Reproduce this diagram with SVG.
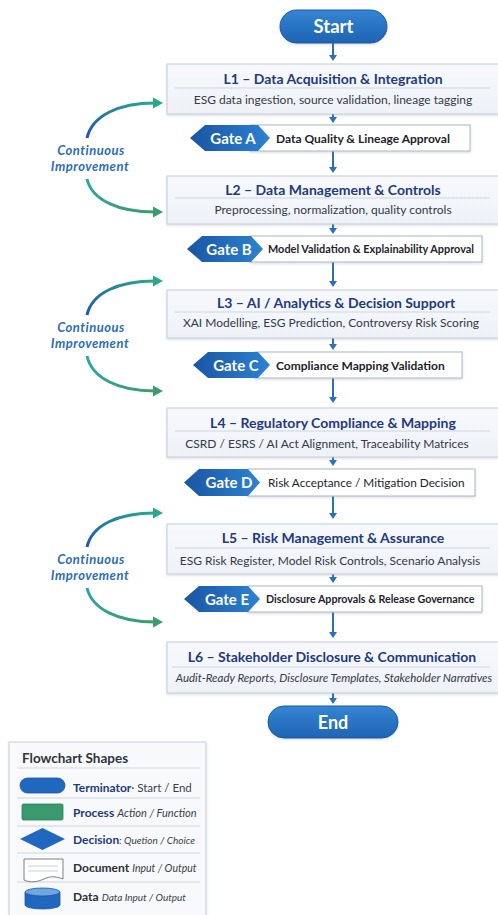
<svg xmlns="http://www.w3.org/2000/svg" width="498" height="915" viewBox="0 0 498 915">
  <defs>
    <style>
      .ttl { font-family: "Lato", "Liberation Sans", sans-serif; font-weight: 700; font-size: 14px; fill: #1f3a7e; text-anchor: middle; }
      .sub { font-family: "Lato", "Liberation Sans", sans-serif; font-size: 12px; fill: #333a44; text-anchor: middle; }
      .gk { font-family: "Lato", "Liberation Sans", sans-serif; font-weight: 700; font-size: 15px; fill: #ffffff; text-anchor: middle; }
      .gl { font-family: "Lato", "Liberation Sans", sans-serif; font-weight: 700; font-size: 12px; fill: #1e232b; }
      .term { font-family: "Lato", "Liberation Sans", sans-serif; font-weight: 700; font-size: 18.5px; fill: #ffffff; text-anchor: middle; }
      .ci { font-family: "Lato", "Liberation Sans", sans-serif; font-weight: 700; font-style: italic; font-size: 13px; letter-spacing: 0.5px; fill: #2d6cb8; text-anchor: middle; }
      .box { fill: url(#boxFill); stroke: #c6ced8; stroke-width: 1; }
      .sep { stroke: #cfd6de; stroke-width: 1; }
      .gbox { fill: #ffffff; stroke: #b9c1cc; stroke-width: 1.2; }
      .hex { fill: url(#hexFill); }
      .pill { fill: url(#pillFill); stroke: #1c5aa6; stroke-width: 1; }
      .flow { stroke: #2b6fbe; stroke-width: 2; fill: none; }
      .head { fill: #2b6fbe; }
      .lg { font-family: "Lato", "Liberation Sans", sans-serif; font-size: 12px; fill: #3a3f47; }
      .lgb { font-weight: 700; fill: #1f3a7e; }
      .lgd { font-weight: 700; fill: #2a2e35; }
      .lgi { font-style: italic; font-size: 11px; }
    </style>
    <linearGradient id="boxFill" x1="0" y1="0" x2="0" y2="1">
      <stop offset="0" stop-color="#f7f9fc"/>
      <stop offset="1" stop-color="#eef2f7"/>
    </linearGradient>
    <linearGradient id="hexFill" x1="0" y1="0" x2="1" y2="0">
      <stop offset="0" stop-color="#1a55a3"/>
      <stop offset="1" stop-color="#2c82d2"/>
    </linearGradient>
    <linearGradient id="pillFill" x1="0" y1="0" x2="0" y2="1">
      <stop offset="0" stop-color="#3485d3"/>
      <stop offset="1" stop-color="#1e63b3"/>
    </linearGradient>
    <linearGradient id="upArc" x1="0" y1="1" x2="1" y2="0">
      <stop offset="0" stop-color="#1d55b5"/>
      <stop offset="1" stop-color="#2aa88e"/>
    </linearGradient>
    <linearGradient id="downArc" x1="0" y1="0" x2="1" y2="1">
      <stop offset="0" stop-color="#2ba6b0"/>
      <stop offset="1" stop-color="#3a9c6c"/>
    </linearGradient>
    <filter id="shadow" x="-5%" y="-10%" width="110%" height="130%">
      <feDropShadow dx="0" dy="1.2" stdDeviation="1.2" flood-color="#6b7a90" flood-opacity="0.25"/>
    </filter>
    <path id="ah" d="M-4,-3 L4,-3 L0,3 Z"/>
  </defs>

  <rect width="498" height="915" fill="#ffffff"/>

  <!-- vertical flow connectors -->
  <g id="connectors">
    <path class="flow" d="M333,43 V56"/><use href="#ah" class="head" x="333" y="58"/>
    <path class="flow" d="M333,114 V118"/><use href="#ah" class="head" x="333" y="120"/>
    <path class="flow" d="M333,151 V168"/><use href="#ah" class="head" x="333" y="170"/>
    <path class="flow" d="M333,224 V229"/><use href="#ah" class="head" x="333" y="231"/>
    <path class="flow" d="M333,262 V281"/><use href="#ah" class="head" x="333" y="284"/>
    <path class="flow" d="M333,338 V344"/><use href="#ah" class="head" x="333" y="347"/>
    <path class="flow" d="M333,378 V397"/><use href="#ah" class="head" x="333" y="400"/>
    <path class="flow" d="M333,457 V461"/><use href="#ah" class="head" x="333" y="463"/>
    <path class="flow" d="M333,496 V513"/><use href="#ah" class="head" x="333" y="516"/>
    <path class="flow" d="M333,574 V578"/><use href="#ah" class="head" x="333" y="580"/>
    <path class="flow" d="M333,612 V632"/><use href="#ah" class="head" x="333" y="635"/>
    <path class="flow" d="M333,693 V699"/><use href="#ah" class="head" x="333" y="701"/>
  </g>

  <!-- continuous improvement loops -->
  <g id="improvement-1">
    <path d="M87,138 C92,116 118,103 155,103" fill="none" stroke="url(#upArc)" stroke-width="3"/>
    <path d="M153,97.5 L163,103 L153,108.5 Z" fill="#2aa88e"/>
    <text class="ci" x="91" y="155">Continuous</text>
    <text class="ci" x="90" y="170.6">Improvement</text>
    <path d="M87,179 C92,200 118,212 155,212" fill="none" stroke="url(#downArc)" stroke-width="3"/>
    <path d="M153,206.5 L163,212 L153,217.5 Z" fill="#3a9c6c"/>
  </g>
  <g id="improvement-2">
    <path d="M87,315 C92,293 118,281 155,281" fill="none" stroke="url(#upArc)" stroke-width="3"/>
    <path d="M153,275.5 L163,281 L153,286.5 Z" fill="#2aa88e"/>
    <text class="ci" x="91" y="332">Continuous</text>
    <text class="ci" x="90" y="347.6">Improvement</text>
    <path d="M87,356 C92,378 118,391 155,391" fill="none" stroke="url(#downArc)" stroke-width="3"/>
    <path d="M153,385.5 L163,391 L153,396.5 Z" fill="#3a9c6c"/>
  </g>
  <g id="improvement-3">
    <path d="M87,547 C92,525 118,513 155,513" fill="none" stroke="url(#upArc)" stroke-width="3"/>
    <path d="M153,507.5 L163,513 L153,518.5 Z" fill="#2aa88e"/>
    <text class="ci" x="91" y="564">Continuous</text>
    <text class="ci" x="90" y="579.6">Improvement</text>
    <path d="M87,588 C92,609 118,622 155,622" fill="none" stroke="url(#downArc)" stroke-width="3"/>
    <path d="M153,616.5 L163,622 L153,627.5 Z" fill="#3a9c6c"/>
  </g>

  <!-- terminators -->
  <g id="start">
    <rect class="pill" x="280" y="10" width="107" height="33" rx="16.5" filter="url(#shadow)"/>
    <text class="term" x="333.5" y="33">Start</text>
  </g>

  <!-- layer boxes -->
  <g id="l1">
    <rect class="box" x="167" y="64" width="340" height="50" filter="url(#shadow)"/>
    <line class="sep" x1="175" y1="88" x2="490" y2="88"/>
    <text class="ttl" x="333" y="84">L1 – Data Acquisition &amp; Integration</text>
    <text class="sub" x="333" y="104">ESG data ingestion, source validation, lineage tagging</text>
  </g>
  <g id="gate-a">
    <rect class="gbox" x="250" y="125" width="220" height="26" filter="url(#shadow)"/>
    <path class="hex" d="M190,138 L205,125 L258,125 L270,138 L258,151 L205,151 Z"/>
    <text class="gk" x="233" y="143.5">Gate A</text>
    <text class="gl" x="276" y="142.5">Data Quality &amp; Lineage Approval</text>
  </g>

  <g id="l2">
    <rect class="box" x="167" y="176" width="340" height="48" filter="url(#shadow)"/>
    <line class="sep" x1="175" y1="198" x2="490" y2="198"/>
    <text class="ttl" x="333" y="195">L2 – Data Management &amp; Controls</text>
    <text class="sub" x="333" y="214">Preprocessing, normalization, quality controls</text>
  </g>
  <g id="gate-b">
    <rect class="gbox" x="250" y="236" width="232" height="26" filter="url(#shadow)"/>
    <path class="hex" d="M187,249 L202,236 L251,236 L263,249 L251,262 L202,262 Z"/>
    <text class="gk" x="229" y="254.5">Gate B</text>
    <text class="gl" x="268" y="253" style="font-size:10.9px">Model Validation &amp; Explainability Approval</text>
  </g>

  <g id="l3">
    <rect class="box" x="167" y="290" width="340" height="48" filter="url(#shadow)"/>
    <line class="sep" x1="175" y1="312" x2="490" y2="312"/>
    <text class="ttl" x="336" y="308">L3 – AI / Analytics &amp;  Decision Support</text>
    <text class="sub" x="331" y="326.5">XAI Modelling, ESG Prediction, Controversy Risk Scoring</text>
  </g>
  <g id="gate-c">
    <rect class="gbox" x="255" y="352" width="207" height="26" filter="url(#shadow)"/>
    <path class="hex" d="M193,365 L208,352 L258,352 L270,365 L258,378 L208,378 Z"/>
    <text class="gk" x="236" y="370.5">Gate C</text>
    <text class="gl" x="276" y="369.5">Compliance Mapping Validation</text>
  </g>

  <g id="l4">
    <rect class="box" x="167" y="408" width="340" height="49" filter="url(#shadow)"/>
    <line class="sep" x1="175" y1="431" x2="490" y2="431"/>
    <text class="ttl" x="333" y="428">L4 – Regulatory Compliance &amp; Mapping</text>
    <text class="sub" x="327" y="447.5">CSRD / ESRS / AI Act Alignment, Traceability Matrices</text>
  </g>
  <g id="gate-d">
    <rect class="gbox" x="248" y="469" width="227" height="27" filter="url(#shadow)"/>
    <path class="hex" d="M184,482.5 L199,469 L248,469 L260,482.5 L248,496 L199,496 Z"/>
    <text class="gk" x="229" y="488">Gate D</text>
    <text class="gl" x="268" y="487" style="font-weight:400;font-size:11.8px">Risk Acceptance / Mitigation Decision</text>
  </g>

  <g id="l5">
    <rect class="box" x="167" y="524" width="340" height="50" filter="url(#shadow)"/>
    <line class="sep" x1="175" y1="548" x2="490" y2="548"/>
    <text class="ttl" x="333" y="543">L5 – Risk Management &amp; Assurance</text>
    <text class="sub" x="330" y="564.5">ESG Risk Register, Model Risk Controls, Scenario Analysis</text>
  </g>
  <g id="gate-e">
    <rect class="gbox" x="248" y="586" width="234" height="26" filter="url(#shadow)"/>
    <path class="hex" d="M184,599 L199,586 L248,586 L260,599 L248,612 L199,612 Z"/>
    <text class="gk" x="227" y="604.5">Gate E</text>
    <text class="gl" x="266" y="603" style="font-size:10.7px">Disclosure Approvals &amp; Release Governance</text>
  </g>

  <g id="l6">
    <rect class="box" x="167" y="642" width="340" height="51" filter="url(#shadow)"/>
    <line class="sep" x1="172" y1="667" x2="490" y2="667"/>
    <text class="ttl" x="332" y="662">L6 – Stakeholder Disclosure &amp; Communication</text>
    <text class="sub" x="334" y="682" style="font-style:italic;font-size:11.5px">Audit-Ready Reports, Disclosure Templates, Stakeholder Narratives</text>
  </g>

  <g id="end">
    <rect class="pill" x="268" y="706" width="130" height="32" rx="16" filter="url(#shadow)"/>
    <text class="term" x="333" y="728.5" style="font-size:18px">End</text>
  </g>

  <!-- shape legend -->
  <g id="legend">
    <rect x="9" y="742" width="197" height="185" fill="#f7f9fb" stroke="#c9d0d8" stroke-width="1" filter="url(#shadow)"/>
    <text class="lg" x="22" y="763" style="font-weight:700;font-size:13.5px;fill:#2f343b">Flowchart Shapes</text>
    <line class="sep" x1="17" y1="768" x2="200" y2="768"/>
    <line class="sep" x1="17" y1="798" x2="200" y2="798"/>
    <line class="sep" x1="17" y1="826" x2="200" y2="826"/>
    <line class="sep" x1="17" y1="853" x2="200" y2="853"/>
    <line class="sep" x1="17" y1="882" x2="200" y2="882"/>

    <rect x="20" y="778" width="45" height="15" rx="7.5" fill="#1f67bf" stroke="#1a57a3" stroke-width="0.8"/>
    <text class="lg" x="73" y="792"><tspan class="lgb">Terminator</tspan><tspan style="font-size:11.5px">· Start / End</tspan></text>

    <rect x="22" y="804" width="41" height="16" rx="1.5" fill="#3a9a6e" stroke="#2e7f5a" stroke-width="0.8"/>
    <text class="lg" x="73" y="817"><tspan class="lgb">Process</tspan> <tspan class="lgi">Action / Function</tspan></text>

    <path d="M20,839 L42.5,828 L65,839 L42.5,850 Z" fill="#1f67bf"/>
    <text class="lg" x="73" y="844"><tspan class="lgb">Decision</tspan><tspan class="lgi" style="font-size:10px">: Quetion / Choice</tspan></text>

    <path d="M24,859 H63 V879 C55,876 50,876 44,879 C37,882 31,883 24,880 Z" fill="#ffffff" stroke="#6b7480" stroke-width="0.9"/>
    <line x1="28" y1="866" x2="58" y2="866" stroke="#b7c3d2" stroke-width="0.8"/>
    <line x1="28" y1="871" x2="58" y2="871" stroke="#b7c3d2" stroke-width="0.8"/>
    <text class="lg" x="73" y="872"><tspan class="lgd">Document</tspan> <tspan class="lgi" style="font-size:10.5px">Input / Output</tspan></text>

    <path d="M25,892 V905 A17.5,4 0 0 0 60,905 V892" fill="#1f67bf" stroke="#1a57a3" stroke-width="0.8"/>
    <ellipse cx="42.5" cy="892" rx="17.5" ry="4" fill="#6ea6e0" stroke="#1a57a3" stroke-width="0.8"/>
    <text class="lg" x="73" y="901"><tspan class="lgd">Data</tspan> <tspan class="lgi" style="font-size:10px">Data Input / Output</tspan></text>
  </g>
</svg>
